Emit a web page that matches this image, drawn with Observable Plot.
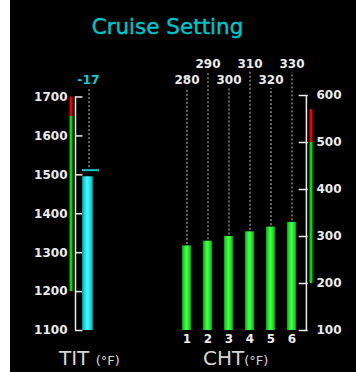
<!DOCTYPE html>
<html>
<head>
<meta charset="utf-8">
<script src="https://cdn.jsdelivr.net/npm/d3@7"></script>
<script src="https://cdn.jsdelivr.net/npm/@observablehq/plot@0.6"></script>
<style>
  html, body { margin: 0; padding: 0; background: #fff; }
  #panel { position: absolute; left: 10px; top: 0; width: 346px; height: 372px; background: #000; }
  #gauges { position: absolute; left: 0; top: 0; width: 356px; height: 372px; }
  #gauges svg { position: absolute; left: 0; top: 0; }
  .lbl { position: absolute; font-family: "DejaVu Sans", sans-serif; line-height: 1; white-space: nowrap; }
  .title { left: 0; width: 335px; top: 16px; text-align: center; font-size: 21.5px; color: #00c6cc; -webkit-text-stroke: 0.4px #00c6cc; }
  .gauge-name { top: 348px; font-size: 20px; color: #d6d6d6; }
  .gauge-name span { font-size: 13px; }
</style>
</head>
<body>
<div id="panel"></div>
<div id="gauges"></div>
<div class="lbl title">Cruise Setting</div>
<div class="lbl gauge-name" style="left:59px">TIT <span>(°F)</span></div>
<div class="lbl gauge-name" style="left:203px">CHT<span>(°F)</span></div>
<script>
// Turbine inlet temperature gauge
const titTicks = [1100, 1200, 1300, 1400, 1500, 1600, 1700];
const titCurrent = 1495;
const titPeak = 1512;
const titBands = [
  {from: 1200, to: 1650, zone: "normal"},
  {from: 1650, to: 1700, zone: "redline"}
];

// Cylinder head temperatures
const chtCylinders = [1, 2, 3, 4, 5, 6];
const chtTemps = [280, 290, 300, 310, 320, 330];
const chtTicks = [100, 200, 300, 400, 500, 600];
const chtBands = [
  {from: 200, to: 500, zone: "normal"},
  {from: 500, to: 570, zone: "redline"}
];

const zoneColor = {normal: "#00dd00", redline: "#ee0000"};
const cyan = "#14c8d0";
const ink = "#ececec";
const dash = "#c4c4c4";

const svgStyle = {
  background: "transparent",
  fontFamily: "DejaVu Sans, sans-serif",
  fontSize: "12px",
  fontWeight: "bold",
  color: ink
};

function addGradient(svg, id, stops) {
  const defs = d3.select(svg).insert("defs", ":first-child");
  const g = defs.append("linearGradient").attr("id", id)
    .attr("x1", 0).attr("x2", 1).attr("y1", 0).attr("y2", 0);
  for (const [offset, color] of stops) g.append("stop").attr("offset", offset).attr("stop-color", color);
}

const titTop = titTicks[titTicks.length - 1];
const tit = [{gauge: "TIT", current: titCurrent, peak: titPeak}];

const titPlot = Plot.plot({
  width: 356,
  height: 372,
  marginLeft: 75,
  marginRight: 256,
  marginTop: 96.5,
  marginBottom: 42,
  style: svgStyle,
  x: {type: "band", domain: ["TIT"], padding: 0, axis: null},
  y: {domain: [titTicks[0], titTop]},
  marks: [
    // limit zones beside the scale
    Plot.ruleX(titBands, {x: () => "TIT", y1: "from", y2: "to", stroke: d => zoneColor[d.zone], strokeWidth: 3, dx: -17}),
    // scale spine
    Plot.ruleX(tit, {x: "gauge", y1: () => titTicks[0], y2: () => titTop, dx: -12.5, stroke: ink, strokeWidth: 1.5}),
    Plot.axisY(titTicks, {anchor: "left", tickSize: -7.5, tickPadding: 15.5, tickFormat: "d", color: ink, strokeWidth: 1.5, label: null}),
    // current value bar
    Plot.barY(tit, {x: "gauge", y1: () => titTicks[0], y2: "current", insetLeft: 7, insetRight: 7, fill: "url(#titFill)"}),
    // peak leader and marker
    Plot.ruleX(tit, {x: "gauge", y1: "peak", y2: () => titTop, insetTop: -2.5, insetBottom: 9, dx: 1, stroke: dash, strokeDasharray: "2,2"}),
    Plot.tickY(tit, {x: "gauge", y: "peak", insetLeft: 7, insetRight: 1, stroke: cyan, strokeWidth: 2}),
    // difference from peak
    Plot.text(tit, {x: "gauge", frameAnchor: "top", dy: -13.5, dx: 0.5, lineAnchor: "bottom", text: d => String(d.current - d.peak), fill: cyan, fontSize: 12.5})
  ]
});
addGradient(titPlot, "titFill", [[0, "#007f88"], [0.18, "#12d6de"], [0.5, "#48f6fa"], [0.82, "#12d6de"], [1, "#007f88"]]);

const chtTop = chtTicks[chtTicks.length - 1];
const cht = chtCylinders.map((cyl, i) => ({cyl, temp: chtTemps[i], row: i % 2}));
const lowRow = cht.filter(d => d.row === 0);
const highRow = cht.filter(d => d.row === 1);
const lastCyl = chtCylinders[chtCylinders.length - 1];

const chtPlot = Plot.plot({
  width: 356,
  height: 372,
  marginLeft: 176,
  marginRight: 49.3,
  marginTop: 95,
  marginBottom: 42,
  style: svgStyle,
  x: {type: "band", domain: chtCylinders, padding: 0, insetRight: 4.2},
  y: {domain: [chtTicks[0], chtTop]},
  marks: [
    // leaders from each value label down to its bar
    Plot.ruleX(lowRow, {x: "cyl", y1: "temp", y2: () => chtTop, insetTop: -1.5, insetBottom: 7, stroke: dash, strokeDasharray: "2,2"}),
    Plot.ruleX(highRow, {x: "cyl", y1: "temp", y2: () => chtTop, insetTop: -1.5, insetBottom: 23, stroke: dash, strokeDasharray: "2,2"}),
    Plot.text(lowRow, {x: "cyl", frameAnchor: "top", dy: -12, lineAnchor: "bottom", text: d => String(d.temp), fill: ink}),
    Plot.text(highRow, {x: "cyl", frameAnchor: "top", dy: -28, lineAnchor: "bottom", text: d => String(d.temp), fill: ink}),
    // cylinder bars
    Plot.barY(cht, {x: "cyl", y1: () => chtTicks[0], y2: "temp", insetLeft: 6, insetRight: 6, fill: "url(#chtFill)"}),
    // scale spine, ticks and limit zones
    Plot.ruleX([lastCyl], {x: d => d, y1: () => chtTicks[0], y2: () => chtTop, dx: 14.4, stroke: ink, strokeWidth: 1.5}),
    Plot.axisY(chtTicks, {anchor: "right", tickSize: -9, tickPadding: 18.3, tickFormat: "d", color: ink, strokeWidth: 1.5, label: null}),
    Plot.ruleX(chtBands, {x: () => lastCyl, y1: "from", y2: "to", stroke: d => zoneColor[d.zone], strokeWidth: 3, dx: 19}),
    Plot.axisX({anchor: "bottom", tickSize: 0, tickPadding: 4, color: ink, label: null})
  ]
});
addGradient(chtPlot, "chtFill", [[0, "#009a00"], [0.2, "#1fdc2a"], [0.5, "#46ff4e"], [0.8, "#1fdc2a"], [1, "#009a00"]]);

const holder = document.getElementById("gauges");
holder.append(titPlot, chtPlot);
</script>
</body>
</html>
